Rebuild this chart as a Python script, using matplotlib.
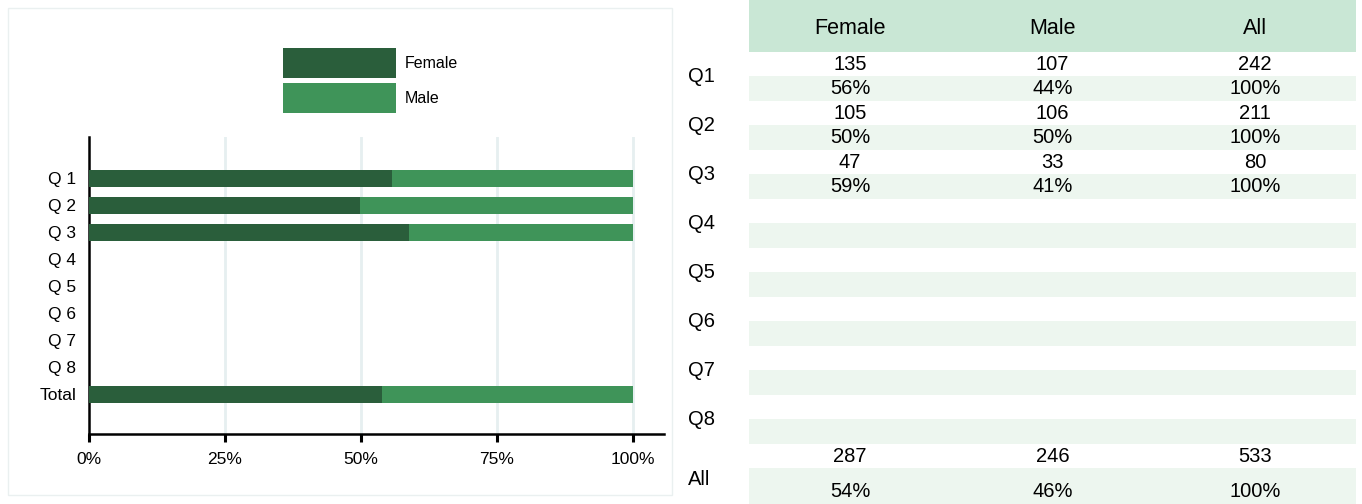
import numpy as np
import matplotlib.pyplot as plt
from matplotlib.patches import Rectangle

plt.rcParams['font.family'] = ['Liberation Sans', 'DejaVu Sans']

chart_labels = ['Q 1', 'Q 2', 'Q 3', 'Q 4', 'Q 5', 'Q 6', 'Q 7', 'Q 8', 'Total']
table_labels = ['Q1', 'Q2', 'Q3', 'Q4', 'Q5', 'Q6', 'Q7', 'Q8', 'All']
columns = ['Female', 'Male', 'All']
female_counts = [135, 105, 47, 0, 0, 0, 0, 0]
male_counts = [107, 106, 33, 0, 0, 0, 0, 0]
pct_ticks = [0, 25, 50, 75, 100]

FEMALE_COLOR = '#2a5e3b'
MALE_COLOR = '#3f9459'
HEADER_COLOR = '#c9e7d5'
BAND_COLOR = '#edf6ef'
GRID_COLOR = '#e6eff0'

W, H = 1362, 504


def build_rows():
    f = np.array(female_counts + [sum(female_counts)], dtype=float)
    m = np.array(male_counts + [sum(male_counts)], dtype=float)
    return f, m, f + m


def plot_chart(fig, f, m, t):
    ax = fig.add_axes([89 / W, 70 / H, 575 / W, 297 / H])
    has = t > 0
    fpct = np.zeros_like(t)
    fpct[has] = f[has] / t[has] * 100
    mpct = np.where(has, 100 - fpct, 0)
    y = np.arange(len(chart_labels))

    ax.barh(y[has], fpct[has], height=0.63, color=FEMALE_COLOR, label='Female', zorder=3)
    ax.barh(y[has], mpct[has], left=fpct[has], height=0.63, color=MALE_COLOR, label='Male', zorder=3)

    ax.set_xlim(0, 105.7)
    ax.set_ylim(len(chart_labels) - 1 + 1.48, -1.52)
    ax.set_yticks(y)
    ax.set_yticklabels(chart_labels, fontsize=12.5)
    ax.set_xticks(pct_ticks)
    ax.set_xticklabels([f'{p}%' for p in pct_ticks], fontsize=12.5)
    for p in pct_ticks[1:]:
        ax.axvline(p, color=GRID_COLOR, lw=2, zorder=1)

    for side in ['top', 'right']:
        ax.spines[side].set_visible(False)
    for side in ['left', 'bottom']:
        ax.spines[side].set_linewidth(1.8)
        ax.spines[side].set_color('black')
    ax.tick_params(axis='y', length=0, pad=9)
    ax.tick_params(axis='x', length=6, width=2.2, pad=7, direction='out')

    ax.legend(loc='upper left', bbox_to_anchor=(283 / W, 1 - 48 / H), bbox_transform=fig.transFigure,
              frameon=False, borderpad=0, borderaxespad=0, fontsize=11.5,
              handlelength=7.06, handleheight=2.51, labelspacing=0.33, handletextpad=0.56)

    fig.add_artist(Rectangle((8 / W, 9 / H), 664 / W, 487 / H, transform=fig.transFigure,
                             fill=False, edgecolor='#eaf0f0', lw=1))


def plot_table(fig, f, m, t):
    ax = fig.add_axes([680 / W, 0, 676 / W, 1])
    header_h = 2.12
    heights = [1.0] * 17 + [1.9]
    edges = np.concatenate([[0], np.cumsum(heights)])
    ax.set_xlim(-69 / 202.33, len(columns))
    ax.set_ylim(18.45, -header_h)
    ax.axis('off')

    ax.add_patch(Rectangle((0, -header_h), len(columns), header_h, color=HEADER_COLOR, lw=0))
    for c, name in enumerate(columns):
        ax.text(c + 0.5, -header_h / 2 + 0.1, name, ha='center', va='center', fontsize=15.5)

    for i in range(1, len(heights), 2):
        ax.add_patch(Rectangle((0, edges[i]), len(columns), heights[i], color=BAND_COLOR, lw=0))

    for g, label in enumerate(table_labels):
        r0, r1 = 2 * g, 2 * g + 1
        ax.text(-0.30, (edges[r0] + edges[r1 + 1]) / 2, label, ha='left', va='center', fontsize=14.5)
        if t[g] <= 0:
            continue
        vals = [f[g], m[g], t[g]]
        for c, v in enumerate(vals):
            ax.text(c + 0.5, (edges[r0] + edges[r0 + 1]) / 2, f'{int(v)}',
                    ha='center', va='center', fontsize=14.5)
            ax.text(c + 0.5, (edges[r1] + edges[r1 + 1]) / 2, f'{round(v / t[g] * 100)}%',
                    ha='center', va='center', fontsize=14.5)


def main():
    fig = plt.figure(figsize=(W / 100, H / 100), dpi=100)
    f, m, t = build_rows()
    plot_chart(fig, f, m, t)
    plot_table(fig, f, m, t)
    fig.savefig('out.png', dpi=100)


if __name__ == '__main__':
    main()
